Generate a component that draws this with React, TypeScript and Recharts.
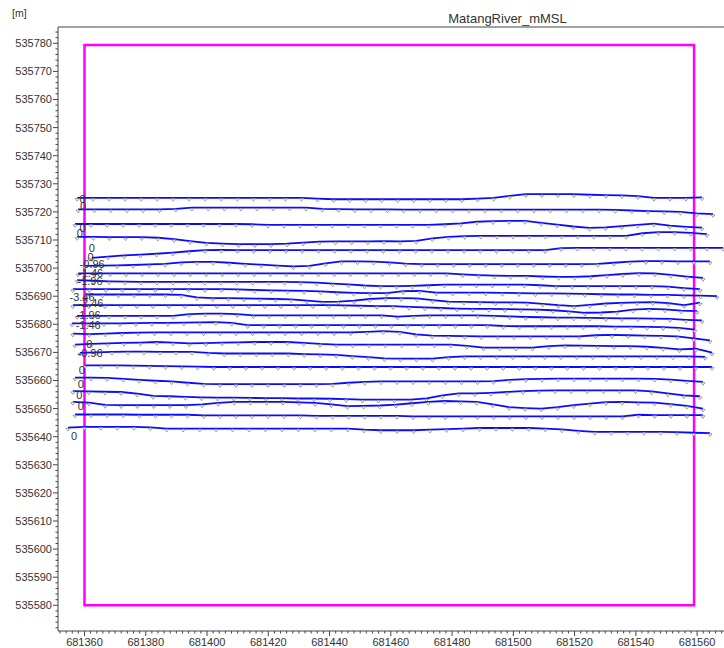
import React from 'react';
import {
  ScatterChart,
  Scatter,
  XAxis,
  YAxis,
  ReferenceArea,
  ReferenceLine
} from 'recharts';

// axis ranges (easting / northing, metres)
const xMin = 681351.35;
const xMax = 681568.77;
const yMin = 535570.85;
const yMax = 535785.8;

const xMajorTicks = [681360, 681380, 681400, 681420, 681440, 681460, 681480, 681500, 681520, 681540, 681560];
const yMajorTicks = [
  535580, 535590, 535600, 535610, 535620, 535630, 535640, 535650, 535660, 535670, 535680,
  535690, 535700, 535710, 535720, 535730, 535740, 535750, 535760, 535770, 535780
];

// model boundary
const boundaryX = [681360, 681559];
const boundaryY = [535580, 535779.4];

// cross sections: start / end easting and northing at each point
const sectionStartX = [
  681357.6, 681357.9, 681356.9, 681357.6, 681362.4, 681360.2, 681357.9, 681357.6, 681356.2, 681360.8, 681356.2,
  681357.6, 681355.9, 681356.2, 681356.9, 681358.5, 681360.2, 681356.9, 681356.2, 681356.2, 681356.9, 681354.6
];
const sectionEndX = [
  681561.6, 681565.2, 681561.6, 681563.2, 681568.5, 681564.2, 681561.9, 681560.9, 681566.5, 681560.9, 681560.0,
  681561.6, 681559.3, 681564.2, 681564.9, 681562.6, 681564.9, 681561.9, 681560.9, 681561.9, 681561.9, 681564.2
];

const section01 = [
  535725.0, 535725.0, 535725.0, 535725.0, 535725.0, 535725.0, 535725.0, 535725.0, 535725.0, 535725.0,
  535725.0, 535725.0, 535725.0, 535725.0, 535725.0, 535724.7, 535724.5, 535724.5, 535724.5, 535724.5,
  535724.5, 535724.5, 535724.5, 535724.5, 535724.5, 535724.7, 535725.0, 535725.7, 535726.3, 535726.3,
  535726.3, 535726.3, 535726.1, 535726.0, 535725.9, 535725.6, 535725.0, 535725.0, 535725.0, 535725.2
];
const section02 = [
  535720.9, 535720.9, 535720.9, 535720.9, 535720.9, 535720.9, 535721.1, 535721.5, 535721.5, 535721.5,
  535721.5, 535721.5, 535721.5, 535721.5, 535721.5, 535721.1, 535721.0, 535720.9, 535720.9, 535720.9,
  535720.8, 535720.8, 535720.8, 535720.8, 535720.8, 535720.8, 535720.8, 535720.8, 535720.8, 535720.8,
  535720.8, 535720.8, 535720.8, 535720.7, 535720.5, 535720.3, 535720.2, 535720.0, 535719.5, 535719.2
];
const section03 = [
  535715.7, 535715.7, 535715.7, 535715.7, 535715.7, 535715.7, 535715.7, 535715.7, 535715.7, 535715.7,
  535715.7, 535715.6, 535715.4, 535715.4, 535715.4, 535715.4, 535715.4, 535715.4, 535715.4, 535715.4,
  535715.4, 535715.4, 535715.4, 535715.6, 535715.9, 535716.5, 535716.7, 535716.8, 535716.8, 535716.1,
  535715.5, 535714.8, 535714.3, 535714.5, 535714.9, 535715.4, 535715.8, 535715.1, 535714.7, 535714.4
];
const section04 = [
  535711.1, 535711.1, 535711.0, 535711.0, 535711.0, 535710.8, 535710.3, 535709.6, 535709.0, 535708.7,
  535708.5, 535708.5, 535708.5, 535708.7, 535709.1, 535709.4, 535709.5, 535709.5, 535709.5, 535709.6,
  535709.5, 535709.7, 535710.6, 535711.1, 535711.4, 535711.5, 535711.5, 535711.5, 535711.5, 535711.5,
  535711.5, 535711.5, 535711.5, 535711.5, 535711.5, 535712.4, 535712.8, 535712.8, 535712.5, 535712.1
];
const section05 = [
  535703.6, 535704.1, 535704.5, 535704.8, 535705.1, 535705.5, 535706.0, 535706.4, 535706.5, 535706.4,
  535706.4, 535706.4, 535706.4, 535706.4, 535706.4, 535706.4, 535706.4, 535706.4, 535706.4, 535706.4,
  535706.4, 535706.4, 535706.4, 535706.4, 535706.4, 535706.4, 535706.4, 535706.4, 535706.4, 535707.1,
  535707.2, 535707.2, 535707.2, 535707.2, 535707.2, 535707.2, 535707.2, 535707.2, 535707.2, 535707.2
];
const section06 = [
  535700.8, 535700.9, 535701.0, 535701.1, 535701.3, 535701.5, 535702.0, 535702.2, 535702.2, 535701.9,
  535701.5, 535701.2, 535700.9, 535700.6, 535700.8, 535701.7, 535702.4, 535702.4, 535702.3, 535702.0,
  535701.6, 535701.4, 535701.4, 535701.4, 535701.4, 535701.4, 535701.4, 535701.4, 535701.4, 535701.4,
  535701.4, 535701.4, 535701.5, 535701.9, 535702.3, 535702.5, 535702.5, 535702.4, 535702.4, 535702.4
];
const section07 = [
  535698.1, 535698.1, 535698.1, 535698.1, 535698.1, 535698.1, 535698.1, 535698.1, 535698.1, 535698.1,
  535698.1, 535698.1, 535698.1, 535698.1, 535698.1, 535698.1, 535698.1, 535698.1, 535698.1, 535698.1,
  535698.1, 535698.1, 535698.1, 535698.1, 535697.8, 535697.5, 535697.3, 535697.2, 535697.2, 535697.0,
  535696.9, 535696.9, 535697.1, 535697.5, 535697.9, 535698.2, 535698.1, 535697.6, 535697.0, 535696.5
];
const section08 = [
  535695.7, 535695.5, 535695.3, 535695.2, 535695.1, 535695.1, 535695.1, 535695.1, 535695.1, 535695.1,
  535695.1, 535695.1, 535695.1, 535695.1, 535695.0, 535694.8, 535694.5, 535694.2, 535693.8, 535693.6,
  535693.6, 535693.7, 535693.9, 535694.1, 535694.1, 535694.1, 535694.1, 535694.1, 535694.1, 535693.9,
  535693.6, 535693.6, 535693.6, 535693.6, 535693.6, 535693.6, 535693.6, 535693.4, 535692.9, 535692.5
];
const section09 = [
  535692.5, 535692.5, 535692.5, 535692.5, 535692.5, 535692.5, 535692.5, 535692.5, 535692.5, 535692.5,
  535692.4, 535692.2, 535692.1, 535692.0, 535691.9, 535691.7, 535691.4, 535691.2, 535691.1, 535691.1,
  535691.8, 535691.9, 535691.3, 535691.3, 535691.3, 535691.3, 535691.2, 535691.1, 535691.0, 535691.0,
  535690.9, 535690.8, 535690.7, 535690.6, 535690.6, 535690.5, 535690.5, 535690.3, 535690.2, 535690.0
];
const section10 = [
  535690.6, 535690.6, 535690.6, 535690.6, 535690.6, 535690.6, 535690.5, 535689.6, 535689.3, 535689.3,
  535689.2, 535689.1, 535689.0, 535688.9, 535688.4, 535688.0, 535688.1, 535688.4, 535689.0, 535689.3,
  535689.3, 535689.2, 535688.6, 535688.1, 535688.0, 535687.9, 535687.8, 535687.8, 535687.7, 535687.3,
  535686.8, 535686.5, 535686.9, 535687.4, 535687.6, 535687.8, 535687.9, 535687.5, 535686.8, 535687.7
];
const section11 = [
  535686.8, 535686.8, 535686.8, 535686.8, 535686.8, 535686.8, 535686.8, 535686.8, 535686.8, 535686.8,
  535686.8, 535686.8, 535686.8, 535686.8, 535686.8, 535686.8, 535686.8, 535686.7, 535686.6, 535686.5,
  535686.5, 535686.2, 535686.0, 535685.8, 535685.6, 535685.5, 535685.5, 535685.4, 535685.3, 535685.2,
  535685.0, 535684.6, 535684.1, 535684.2, 535684.5, 535685.2, 535685.5, 535685.3, 535684.9, 535684.7
];
const section12 = [
  535683.0, 535683.0, 535683.0, 535683.0, 535683.0, 535683.0, 535683.0, 535683.6, 535683.8, 535683.8,
  535683.6, 535683.2, 535683.2, 535683.2, 535683.2, 535683.2, 535683.2, 535683.2, 535683.2, 535683.2,
  535682.7, 535683.0, 535683.2, 535683.2, 535683.2, 535683.2, 535683.0, 535682.8, 535682.6, 535682.5,
  535682.4, 535682.4, 535682.3, 535682.2, 535682.1, 535682.1, 535682.0, 535681.9, 535681.6, 535681.4
];
const section13 = [
  535680.3, 535680.3, 535680.3, 535680.3, 535680.4, 535680.5, 535680.5, 535680.6, 535680.7, 535680.8,
  535680.5, 535679.7, 535679.7, 535679.7, 535679.7, 535679.7, 535679.7, 535679.7, 535679.7, 535679.7,
  535679.7, 535679.7, 535679.7, 535679.7, 535679.7, 535679.7, 535679.7, 535679.4, 535679.3, 535679.3,
  535679.3, 535679.3, 535679.3, 535679.3, 535679.2, 535679.2, 535679.1, 535679.0, 535678.7, 535678.1
];
const section14 = [
  535676.7, 535676.5, 535676.7, 535676.9, 535677.0, 535677.1, 535677.1, 535677.1, 535677.1, 535677.1,
  535677.1, 535677.1, 535677.1, 535677.1, 535677.1, 535677.1, 535677.1, 535677.1, 535677.3, 535677.6,
  535677.3, 535676.4, 535676.0, 535675.9, 535675.8, 535675.7, 535675.7, 535675.7, 535675.7, 535675.7,
  535675.7, 535675.7, 535676.1, 535676.2, 535676.1, 535676.0, 535675.9, 535675.7, 535675.0, 535674.3
];
const section15 = [
  535672.8, 535673.0, 535673.2, 535673.4, 535673.5, 535673.7, 535673.5, 535673.2, 535673.3, 535673.5,
  535673.6, 535673.7, 535673.7, 535673.7, 535673.4, 535673.0, 535672.8, 535672.8, 535672.8, 535672.8,
  535672.8, 535672.8, 535672.8, 535672.8, 535672.3, 535671.7, 535671.7, 535671.7, 535671.7, 535672.2,
  535672.5, 535672.4, 535672.3, 535672.2, 535672.2, 535672.0, 535671.6, 535671.1, 535671.3, 535669.9
];
const section16 = [
  535669.8, 535670.0, 535670.2, 535670.3, 535670.3, 535670.2, 535670.2, 535670.2, 535669.8, 535669.6,
  535669.6, 535669.6, 535669.6, 535669.6, 535669.4, 535669.3, 535669.1, 535668.7, 535668.3, 535667.9,
  535667.8, 535667.8, 535667.8, 535668.3, 535668.6, 535668.6, 535668.6, 535668.6, 535668.6, 535668.6,
  535668.6, 535668.6, 535668.6, 535668.6, 535668.6, 535668.6, 535668.6, 535668.6, 535668.6, 535668.4
];
const section17 = [
  535665.4, 535665.4, 535665.4, 535665.3, 535665.2, 535665.1, 535665.0, 535664.9, 535664.8, 535664.8,
  535664.8, 535664.8, 535664.8, 535664.8, 535664.8, 535664.8, 535664.8, 535664.8, 535664.8, 535664.8,
  535664.8, 535664.8, 535664.8, 535664.8, 535664.8, 535664.8, 535664.8, 535664.8, 535664.8, 535664.8,
  535664.8, 535664.8, 535664.8, 535664.8, 535664.8, 535664.8, 535664.8, 535664.8, 535664.8, 535664.8
];
const section18 = [
  535661.0, 535661.0, 535660.9, 535660.6, 535660.2, 535659.9, 535659.7, 535659.2, 535658.8, 535658.7,
  535658.7, 535658.7, 535658.7, 535658.7, 535658.7, 535658.7, 535658.8, 535659.2, 535659.5, 535659.7,
  535659.7, 535659.7, 535659.7, 535659.7, 535659.7, 535659.7, 535659.8, 535660.2, 535660.5, 535660.6,
  535660.7, 535660.7, 535660.7, 535660.7, 535660.7, 535660.7, 535660.6, 535660.3, 535659.9, 535659.5
];
const section19 = [
  535656.2, 535656.1, 535656.0, 535655.9, 535655.3, 535654.5, 535654.4, 535654.2, 535654.0, 535653.9,
  535653.9, 535653.8, 535653.7, 535653.7, 535653.6, 535653.6, 535653.5, 535653.4, 535653.2, 535653.2,
  535653.2, 535653.2, 535653.6, 535654.7, 535655.4, 535655.4, 535655.6, 535655.9, 535656.2, 535656.4,
  535656.5, 535656.5, 535656.5, 535656.5, 535656.5, 535656.5, 535656.1, 535655.4, 535654.7, 535654.4
];
const section20 = [
  535652.4, 535652.1, 535651.3, 535651.2, 535651.2, 535651.2, 535651.2, 535651.2, 535651.5, 535652.0,
  535652.4, 535652.4, 535652.4, 535652.4, 535652.2, 535652.0, 535651.5, 535650.9, 535651.0, 535651.1,
  535651.4, 535651.9, 535652.4, 535652.7, 535652.6, 535652.4, 535651.5, 535650.5, 535650.2, 535650.0,
  535650.5, 535651.2, 535651.8, 535652.3, 535652.4, 535652.2, 535652.1, 535651.6, 535651.0, 535650.0
];
const section21 = [
  535647.9, 535647.9, 535647.9, 535647.9, 535647.8, 535647.8, 535647.8, 535647.8, 535647.6, 535647.6,
  535647.6, 535647.6, 535647.6, 535647.6, 535647.6, 535647.4, 535647.4, 535647.4, 535647.4, 535647.4,
  535647.4, 535647.2, 535647.2, 535647.2, 535647.2, 535647.2, 535647.2, 535647.2, 535647.2, 535647.2,
  535647.2, 535647.2, 535647.2, 535647.2, 535647.2, 535647.8, 535647.7, 535647.7, 535647.7, 535647.7
];
const section22 = [
  535643.2, 535643.5, 535643.5, 535643.5, 535643.5, 535643.3, 535642.9, 535642.9, 535642.9, 535642.9,
  535642.9, 535642.9, 535642.9, 535642.9, 535642.9, 535642.9, 535642.9, 535642.9, 535642.5, 535642.3,
  535642.3, 535642.3, 535642.5, 535642.7, 535642.9, 535643.1, 535643.1, 535643.1, 535643.1, 535642.9,
  535642.6, 535642.1, 535641.7, 535641.7, 535641.7, 535641.7, 535641.7, 535641.6, 535641.4, 535641.3
];

const sections = [
  section01, section02, section03, section04, section05, section06, section07, section08, section09, section10, section11,
  section12, section13, section14, section15, section16, section17, section18, section19, section20, section21, section22
];

// chainage labels at the left bank
const labelText = ['0', '0', '0', '0', '0', '0', '-0.96', '-1.46', '-1.96', '-3.46', '-2.46', '-1.96', '-1.46', '0', '-0.96', '0', '0', '0', '0', '0'];
const labelX = [
  681359.4, 681359.5, 681359.4, 681358.5, 681362.4, 681362.0, 681362.5, 681362.0, 681361.8, 681359.2,
  681362.1, 681361.2, 681361.2, 681361.6, 681361.8, 681359.1, 681358.8, 681358.3, 681358.8, 681356.6
];
const labelY = [
  535724.5, 535722.2, 535714.1, 535712.5, 535707.0, 535704.0, 535701.5, 535698.4, 535695.4, 535689.7,
  535687.5, 535683.2, 535679.9, 535673.1, 535669.8, 535663.9, 535658.9, 535654.7, 535650.8, 535640.3
];

const sectionPoints = sections.map((vals, k) =>
  vals.map((y, i) => ({
    x: sectionStartX[k] + (i * (sectionEndX[k] - sectionStartX[k])) / (vals.length - 1),
    y,
  }))
);
const labelPoints = labelText.map((t, i) => ({ x: labelX[i], y: labelY[i], t }));

const xTicks: number[] = [];
for (let v = 681352; v <= 681568; v += 2) xTicks.push(v);
const yTicks: number[] = [];
for (let v = 535572; v <= 535784; v += 2) yTicks.push(v);

const FONT = '"Liberation Sans", Arial, sans-serif';
const AXIS = '#444';
const TEXT = '#333';

const XTick = (props: any) => {
  const { x, y, payload } = props;
  const major = xMajorTicks.includes(payload.value);
  return (
    <g>
      <line x1={x} x2={x} y1={y} y2={y + (major ? 5 : 2.5)} stroke={AXIS} strokeWidth={1} />
      {major && (
        <text x={x} y={y + 14.5} textAnchor="middle" fontSize={11} fontFamily={FONT} fill={TEXT}>
          {payload.value}
        </text>
      )}
    </g>
  );
};

const YTick = (props: any) => {
  const { x, y, payload } = props;
  const major = yMajorTicks.includes(payload.value);
  return (
    <g>
      <line x1={x - (major ? 5 : 2.5)} x2={x} y1={y} y2={y} stroke={AXIS} strokeWidth={1} />
      {major && (
        <text x={x - 6} y={y + 4} textAnchor="end" fontSize={11} fontFamily={FONT} fill={TEXT}>
          {payload.value}
        </text>
      )}
    </g>
  );
};

const Marker = (props: any) => {
  const { cx, cy } = props;
  if (cx == null || cy == null) return <g />;
  return (
    <path
      d={`M${cx - 2},${cy + 0.7}L${cx + 2},${cy + 0.7}L${cx},${cy + 3.4}Z`}
      fill="#fff"
      stroke="#7a7a7a"
      strokeWidth={0.7}
    />
  );
};

const Label = (props: any) => {
  const { cx, cy, payload } = props;
  const t = payload?.t ?? props.t;
  return (
    <text x={cx} y={cy + 4} textAnchor="middle" fontSize={11} fontFamily={FONT} fill={TEXT}>
      {t}
    </text>
  );
};

const App: React.FC = () => {
  return (
    <div style={{ position: 'absolute', left: 0, top: 0, width: 724, height: 648, background: '#fff' }}>
      <ScatterChart width={724} height={648} margin={{ top: 27, right: 0, bottom: 0, left: 0 }}>
        <XAxis
          type="number"
          dataKey="x"
          domain={[xMin, xMax]}
          allowDataOverflow
          ticks={xTicks}
          interval={0}
          tick={<XTick />}
          tickLine={false}
          tickSize={0}
          tickMargin={0}
          height={17}
          axisLine={{ stroke: AXIS }}
        />
        <YAxis
          type="number"
          dataKey="y"
          domain={[yMin, yMax]}
          allowDataOverflow
          ticks={yTicks}
          interval={0}
          tick={<YTick />}
          tickLine={false}
          tickSize={0}
          tickMargin={0}
          width={58}
          axisLine={{ stroke: AXIS }}
        />
        <ReferenceLine y={yMax} stroke={AXIS} strokeWidth={1} ifOverflow="visible" />
        {sectionPoints.map((pts, k) => (
          <Scatter
            key={k}
            data={pts}
            line={{ stroke: '#0a0aff', strokeWidth: 1.8 }}
            lineType="joint"
            shape={<Marker />}
            isAnimationActive={false}
          />
        ))}
        <ReferenceArea
          x1={boundaryX[0]}
          x2={boundaryX[1]}
          y1={boundaryY[0]}
          y2={boundaryY[1]}
          fill="none"
          fillOpacity={0}
          stroke="#ff00ff"
          strokeWidth={2.5}
          ifOverflow="visible"
        />
        <Scatter data={labelPoints} shape={<Label />} isAnimationActive={false} />
      </ScatterChart>
      <svg width={724} height={648} style={{ position: 'absolute', left: 0, top: 0, pointerEvents: 'none' }}>
        <text x={12} y={17} fontSize={10.5} fontFamily={FONT} fill={TEXT}>[m]</text>
        <text x={507.5} y={22.5} textAnchor="middle" fontSize={13} fontFamily={FONT} fill={TEXT}>
          MatangRiver_mMSL
        </text>
      </svg>
    </div>
  );
};

export default App;
